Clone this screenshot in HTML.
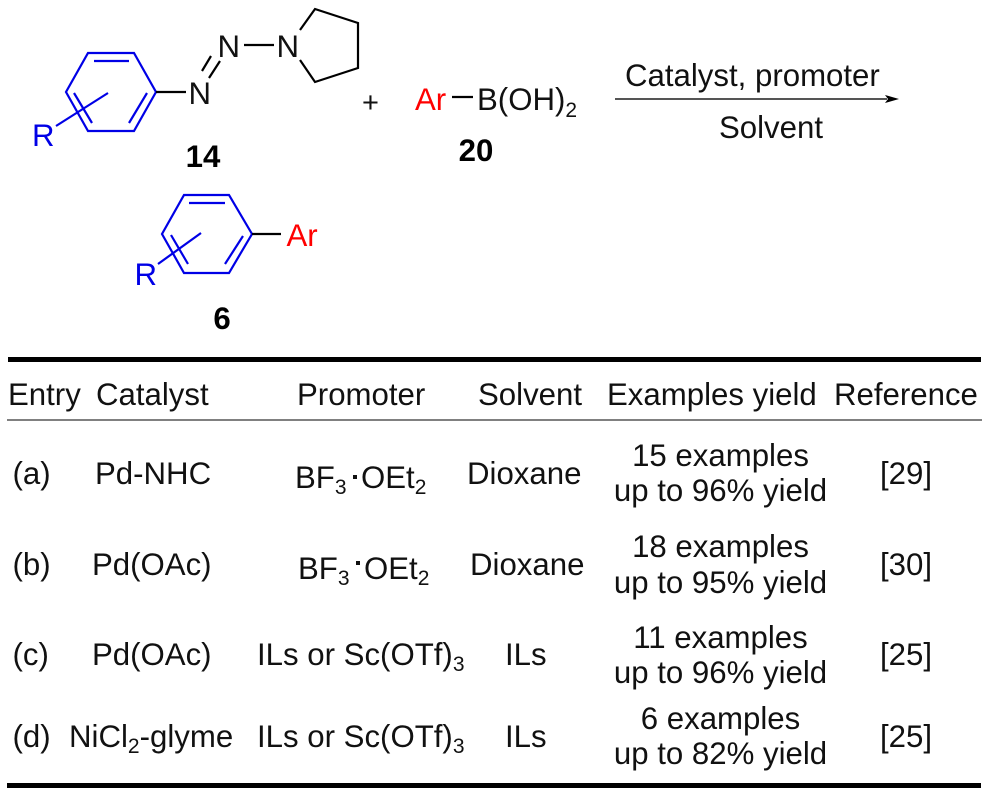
<!DOCTYPE html>
<html><head><meta charset="utf-8"><style>
html,body{margin:0;padding:0;background:#fff}
svg{display:block}
text{font-family:"Liberation Sans",Arial,sans-serif;font-size:31.2px;fill:#111}
.b{font-weight:bold;fill:#000}
.c{text-anchor:middle}
.s{font-size:21px}
</style></head><body>
<svg width="991" height="797" viewBox="0 0 991 797" xmlns="http://www.w3.org/2000/svg">
<rect width="991" height="797" fill="#fff"/>
<g fill="none" stroke="#0000e6" stroke-width="2.200">
<path d="M88 53L134 53L156 92L134 131L88 131L66 92Z"/>
<path d="M94 61L129 61M147 93L129 123M74 93L92 123M56 126L108 93"/>
<path d="M184 195L229 195L252 234L229 273L184 273L162 234Z"/>
<path d="M189 203L225 203M243 236L225 264M171 235L188 264M158 264L201 233"/>
</g>
<g fill="none" stroke="#000" stroke-width="2.200">
<path d="M156 92L186 92M202 71L211 56M209 78L220 61M244 45L274 45"/>
<path d="M300 30L315 9L358 23L358 68L315 82L300 60"/>
<path d="M452 97L473 97M252 234L281 234"/>
</g>
<text x="32" y="146" style="fill:#0000e6">R</text>
<text x="134.500" y="285" style="fill:#0000e6">R</text>
<text x="188.500" y="104">N</text>
<text x="217.500" y="57">N</text>
<text x="276.500" y="57">N</text>
<text x="362" y="112" style="font-size:29px">+</text>
<text x="203" y="167" class="b c">14</text>
<text x="476" y="161" class="b c">20</text>
<text x="222" y="329" class="b c">6</text>
<text x="415" y="110" style="fill:#f00">Ar</text>
<text x="477" y="110">B(OH)<tspan class="s" dy="7">2</tspan></text>
<text x="286.500" y="246" style="fill:#f00">Ar</text>
<path d="M615 99H887" stroke="#555" stroke-width="2"/>
<path d="M885 95L899 99L885 103L888 99Z" fill="#000"/>
<text x="625" y="86">Catalyst, promoter</text>
<text x="771" y="138" class="c">Solvent</text>
<rect x="8" y="357" width="973" height="5" fill="#000"/>
<rect x="7" y="419" width="975" height="2" fill="#808080"/>
<rect x="7" y="783" width="974" height="5" fill="#000"/>
<text x="8" y="405">Entry</text>
<text x="96" y="405">Catalyst</text>
<text x="297" y="405">Promoter</text>
<text x="478" y="405">Solvent</text>
<text x="607" y="405">Examples yield</text>
<text x="834" y="405">Reference</text>
<text x="12.500" y="484">(a)</text>
<text x="95" y="484">Pd-NHC</text>
<text x="295" y="488">BF<tspan class="s" dy="6">3</tspan></text>
<rect x="353" y="475" width="4" height="4" fill="#111"/>
<text x="361" y="488">OEt<tspan class="s" dy="6">2</tspan></text>
<text x="467" y="484">Dioxane</text>
<text x="720.500" y="466" class="c">15 examples</text>
<text x="720.500" y="501" class="c">up to 96% yield</text>
<text x="880" y="484">[29]</text>
<text x="12.500" y="575">(b)</text>
<text x="92" y="575">Pd(OAc)</text>
<text x="298" y="579">BF<tspan class="s" dy="6">3</tspan></text>
<rect x="356" y="561" width="4" height="4" fill="#111"/>
<text x="364" y="579">OEt<tspan class="s" dy="6">2</tspan></text>
<text x="470" y="575">Dioxane</text>
<text x="720.500" y="557" class="c">18 examples</text>
<text x="720.500" y="593" class="c">up to 95% yield</text>
<text x="880" y="575">[30]</text>
<text x="12.500" y="665">(c)</text>
<text x="92" y="665">Pd(OAc)</text>
<text x="257" y="665">ILs or Sc(OTf)<tspan class="s" dy="6">3</tspan></text>
<text x="505" y="665">ILs</text>
<text x="720.500" y="648" class="c">11 examples</text>
<text x="720.500" y="683" class="c">up to 96% yield</text>
<text x="880" y="665">[25]</text>
<text x="12.500" y="747">(d)</text>
<text x="69" y="747">NiCl<tspan class="s" dy="6">2</tspan><tspan dy="-6">-glyme</tspan></text>
<text x="257" y="747">ILs or Sc(OTf)<tspan class="s" dy="6">3</tspan></text>
<text x="505" y="747">ILs</text>
<text x="720.500" y="729" class="c">6 examples</text>
<text x="720.500" y="764" class="c">up to 82% yield</text>
<text x="880" y="747">[25]</text>
</svg>
</body></html>
